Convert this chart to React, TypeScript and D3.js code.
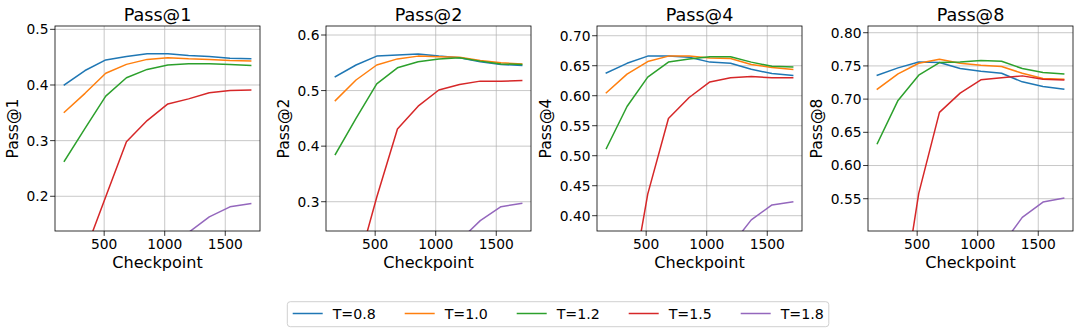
import React from 'react';
import * as d3 from 'd3';

// checkpoints on the x axis
const checkpoints = [171, 342, 513, 684, 855, 1026, 1197, 1368, 1539, 1710];
const temperatures = ['T=0.8', 'T=1.0', 'T=1.2', 'T=1.5', 'T=1.8'];
const colors = ['#1f77b4', '#ff7f0e', '#2ca02c', '#d62728', '#9467bd'];

// one row per temperature
const pass1 = [
  [0.400, 0.426, 0.445, 0.451, 0.456, 0.456, 0.453, 0.451, 0.448, 0.447],
  [0.351, 0.385, 0.421, 0.437, 0.446, 0.449, 0.447, 0.446, 0.444, 0.443],
  [0.263, 0.322, 0.380, 0.413, 0.428, 0.436, 0.438, 0.438, 0.437, 0.435],
  [0.030, 0.100, 0.199, 0.298, 0.336, 0.366, 0.375, 0.386, 0.390, 0.391],
  [0.005, 0.010, 0.020, 0.040, 0.070, 0.100, 0.135, 0.163, 0.181, 0.187],
];
const pass2 = [
  [0.525, 0.546, 0.562, 0.564, 0.566, 0.562, 0.559, 0.552, 0.547, 0.545],
  [0.482, 0.519, 0.546, 0.557, 0.562, 0.561, 0.560, 0.554, 0.550, 0.548],
  [0.385, 0.450, 0.512, 0.541, 0.552, 0.557, 0.559, 0.553, 0.548, 0.547],
  [0.060, 0.173, 0.308, 0.431, 0.472, 0.501, 0.511, 0.517, 0.517, 0.518],
  [0.010, 0.020, 0.040, 0.080, 0.130, 0.180, 0.230, 0.266, 0.291, 0.297],
];
const pass4 = [
  [0.638, 0.654, 0.666, 0.666, 0.664, 0.656, 0.654, 0.644, 0.637, 0.634],
  [0.605, 0.636, 0.657, 0.666, 0.666, 0.663, 0.662, 0.652, 0.647, 0.644],
  [0.512, 0.582, 0.631, 0.656, 0.661, 0.665, 0.665, 0.656, 0.649, 0.648],
  [0.100, 0.239, 0.436, 0.562, 0.597, 0.623, 0.630, 0.632, 0.630, 0.630],
  [0.020, 0.040, 0.070, 0.130, 0.200, 0.280, 0.349, 0.393, 0.418, 0.423],
];
const pass8 = [
  [0.736, 0.747, 0.756, 0.755, 0.746, 0.742, 0.739, 0.726, 0.719, 0.715],
  [0.715, 0.738, 0.754, 0.760, 0.754, 0.751, 0.749, 0.739, 0.731, 0.730],
  [0.633, 0.698, 0.736, 0.755, 0.756, 0.758, 0.757, 0.746, 0.740, 0.738],
  [0.150, 0.359, 0.558, 0.680, 0.709, 0.729, 0.732, 0.735, 0.730, 0.729],
  [0.030, 0.060, 0.110, 0.190, 0.290, 0.390, 0.479, 0.522, 0.545, 0.551],
];

const yTicks1 = [0.2, 0.3, 0.4, 0.5];
const yTicks2 = [0.3, 0.4, 0.5, 0.6];
const yTicks4 = [0.40, 0.45, 0.50, 0.55, 0.60, 0.65, 0.70];
const yTicks8 = [0.55, 0.60, 0.65, 0.70, 0.75, 0.80];
const xTicks = [500, 1000, 1500];

const FONT = 'DejaVu Sans, Liberation Sans, sans-serif';
const TICK_FS = 13.8;

const panels = [
  { title: 'Pass@1', values: pass1, yDomain: [0.1376, 0.506], yTicks: yTicks1, fmt: '.1f', left: 55 },
  { title: 'Pass@2', values: pass2, yDomain: [0.2473, 0.6162], yTicks: yTicks2, fmt: '.1f', left: 326 },
  { title: 'Pass@4', values: pass4, yDomain: [0.3745, 0.7162], yTicks: yTicks4, fmt: '.2f', left: 597 },
  { title: 'Pass@8', values: pass8, yDomain: [0.5014, 0.8101], yTicks: yTicks8, fmt: '.2f', left: 868 },
];

const TOP = 26;
const BOTTOM = 231;
const W = 205;

function Panel({ p, idx }: { p: any; idx: number }) {
  const span = 1710 - 171;
  const x = d3.scaleLinear().domain([171 - span * 0.05, 1710 + span * 0.05]).range([p.left, p.left + W]);
  const y = d3.scaleLinear().domain(p.yDomain).range([BOTTOM, TOP]);
  const line = d3.line<number>().x((_, i) => x(checkpoints[i])).y(d => y(d));
  const fmt = d3.format(p.fmt);
  const digitW = TICK_FS * 0.636;
  const maxLabelW = d3.max(p.yTicks.map((t: number) => fmt(t).length))! * digitW - digitW * 0.5;
  const tickLabelRight = p.left - 6.5;
  const ylabelX = tickLabelRight - maxLabelW - 9;
  const clipId = `clip${idx}`;
  return (
    <g>
      <defs>
        <clipPath id={clipId}>
          <rect x={p.left} y={TOP} width={W} height={BOTTOM - TOP} />
        </clipPath>
      </defs>
      {/* grid */}
      {xTicks.map(t => (
        <line key={'gx' + t} x1={x(t)} x2={x(t)} y1={TOP} y2={BOTTOM} stroke="#b0b0b0" strokeOpacity={0.7} strokeWidth={1} />
      ))}
      {p.yTicks.map((t: number) => (
        <line key={'gy' + t} x1={p.left} x2={p.left + W} y1={y(t)} y2={y(t)} stroke="#b0b0b0" strokeOpacity={0.7} strokeWidth={1} />
      ))}
      {/* lines */}
      <g clipPath={`url(#${clipId})`}>
        {p.values.map((vals: number[], i: number) => (
          <path key={i} d={line(vals)!} fill="none" stroke={colors[i]} strokeWidth={1.5} strokeLinejoin="round" strokeLinecap="square" />
        ))}
      </g>
      {/* spines */}
      <rect x={p.left} y={TOP} width={W} height={BOTTOM - TOP} fill="none" stroke="#000" strokeWidth={0.8} />
      {/* x ticks */}
      {xTicks.map(t => (
        <g key={'xt' + t}>
          <line x1={x(t)} x2={x(t)} y1={BOTTOM} y2={BOTTOM + 4.9} stroke="#000" strokeWidth={0.8} />
          <text x={x(t)} y={249.3} textAnchor="middle" fontFamily={FONT} fontSize={TICK_FS} fill="#000">{t}</text>
        </g>
      ))}
      {/* y ticks */}
      {p.yTicks.map((t: number) => (
        <g key={'yt' + t}>
          <line x1={p.left - 4.9} x2={p.left} y1={y(t)} y2={y(t)} stroke="#000" strokeWidth={0.8} />
          <text x={tickLabelRight} y={y(t)} dy="0.36em" textAnchor="end" fontFamily={FONT} fontSize={TICK_FS} fill="#000">{fmt(t)}</text>
        </g>
      ))}
      <text x={p.left + W / 2} y={20.7} textAnchor="middle" fontFamily={FONT} fontSize={17.6} fill="#000">{p.title}</text>
      <text x={p.left + W / 2} y={267.7} textAnchor="middle" fontFamily={FONT} fontSize={16.1} fill="#000">Checkpoint</text>
      <text transform={`translate(${ylabelX},${(TOP + BOTTOM) / 2}) rotate(-90)`} textAnchor="middle" fontFamily={FONT} fontSize={15.6} fill="#000">{p.title}</text>
    </g>
  );
}

export default function App() {
  const legendX = d3.scaleLinear().domain([0, 1]).range([292.7, 404.7]);
  return (
    <svg width={1080} height={334} style={{ position: 'absolute', left: 0, top: 0, background: '#fff' }}>
      <rect width={1080} height={334} fill="#fff" />
      {panels.map((p, i) => <Panel key={p.title} p={p} idx={i} />)}
      {/* legend */}
      <rect x={287.3} y={301.7} width={541.5} height={25} rx={3} fill="#fff" fillOpacity={0.8} stroke="#d0d0d0" strokeWidth={1} />
      {temperatures.map((t, i) => (
        <g key={t}>
          <line x1={legendX(i)} x2={legendX(i) + 30} y1={313.5} y2={313.5} stroke={colors[i]} strokeWidth={1.5} />
          <text x={legendX(i) + 40} y={313.5} dy="0.36em" fontFamily={FONT} fontSize={14.2} fill="#000">{t}</text>
        </g>
      ))}
    </svg>
  );
}
